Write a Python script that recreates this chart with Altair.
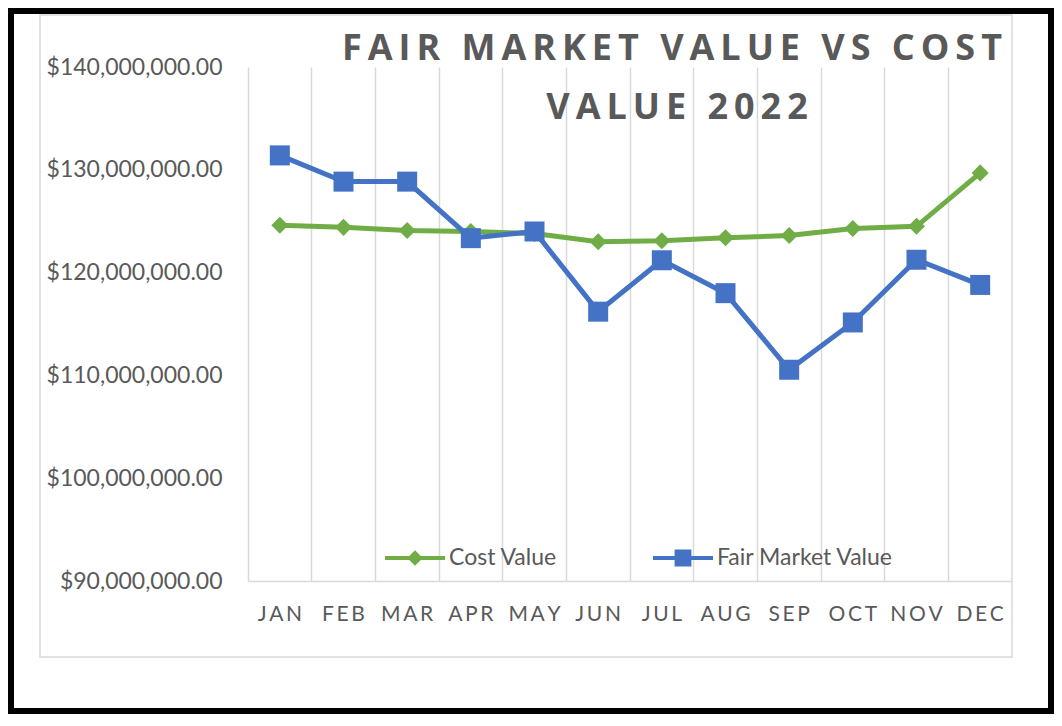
import altair as alt
import pandas as pd

months = ["JAN", "FEB", "MAR", "APR", "MAY", "JUN", "JUL", "AUG", "SEP", "OCT", "NOV", "DEC"]
cost_value = [124_600_000, 124_400_000, 124_100_000, 124_000_000, 123_800_000, 123_000_000,
              123_100_000, 123_400_000, 123_600_000, 124_300_000, 124_500_000, 129_700_000]
fair_market_value = [131_400_000, 128_850_000, 128_850_000, 123_350_000, 124_000_000, 116_200_000,
                     121_200_000, 118_000_000, 110_550_000, 115_150_000, 121_250_000, 118_800_000]
series_names = ["Cost Value", "Fair Market Value"]
series_colors = ["#70AD47", "#4472C4"]
y_ticks = [90_000_000, 100_000_000, 110_000_000, 120_000_000, 130_000_000, 140_000_000]
title_lines = ["FAIR MARKET VALUE VS COST", "VALUE 2022"]

TS = "\u2009"
def spaced(s):
    return TS.join(list(s))

df = pd.DataFrame({
    "month": months * 2,
    "series": [series_names[0]] * len(months) + [series_names[1]] * len(months),
    "value": cost_value + fair_market_value,
})

W, H = 764, 514
FONT = "Lato"
GRAY_TXT = "#595959"
GRID = "#d9d9d9"

x_enc = alt.X(
    "month:N", sort=months,
    scale=alt.Scale(type="band", domain=months, paddingInner=0, paddingOuter=0),
    axis=alt.Axis(
        title=None, labelAngle=0, grid=True, bandPosition=0, gridColor=GRID, gridWidth=1.5,
        domain=True, domainColor=GRID, domainWidth=1.5, ticks=False,
        labelFont=FONT, labelFontSize=21, labelColor=GRAY_TXT, labelPadding=22,
        labelExpr="join(split(datum.label, ''), '" + TS + "')",
    ),
)
y_enc = alt.Y(
    "value:Q",
    scale=alt.Scale(domain=[90_000_000, 140_000_000], nice=False, zero=False),
    axis=alt.Axis(
        title=None, values=y_ticks, format="$,.2f", grid=False, domain=False, ticks=False,
        labelFont=FONT, labelFontSize=23, labelColor=GRAY_TXT, labelPadding=26,
    ),
)

base = alt.Chart(df)

cost_line = base.transform_filter(alt.datum.series == series_names[0]).mark_line(
    color=series_colors[0], strokeWidth=5).encode(x=x_enc, y=y_enc)
cost_pts = base.transform_filter(alt.datum.series == series_names[0]).mark_point(
    shape="diamond", filled=True, size=290, color=series_colors[0], opacity=1).encode(x=x_enc, y=y_enc)
fmv_line = base.transform_filter(alt.datum.series == series_names[1]).mark_line(
    color=series_colors[1], strokeWidth=5).encode(x=x_enc, y=y_enc)
fmv_pts = base.transform_filter(alt.datum.series == series_names[1]).mark_point(
    shape="square", filled=True, size=400, color=series_colors[1], opacity=1).encode(x=x_enc, y=y_enc)

legend_paths = [
    "M-1,-0.07H1V0.07H-1Z M0,-0.26L0.26,0L0,0.26L-0.26,0Z",
    "M-1,-0.07H1V0.07H-1Z M-0.28,-0.28H0.28V0.28H-0.28Z",
]
leg = alt.Legend(
    title=None, orient="none", legendX=137, legendY=461, direction="horizontal",
    labelFont=FONT, labelFontSize=23, labelColor=GRAY_TXT, labelOffset=4, labelLimit=400,
    columnPadding=96, symbolStrokeWidth=0, symbolOpacity=1, symbolSize=3600, padding=0,
)
legend_layer = base.transform_filter("false").mark_point(filled=True, size=3600, opacity=1).encode(
    x=x_enc, y=y_enc,
    color=alt.Color("series:N", scale=alt.Scale(domain=series_names, range=series_colors), legend=leg),
    shape=alt.Shape("series:N", scale=alt.Scale(domain=series_names, range=legend_paths), legend=leg),
)

one = pd.DataFrame({"k": [0]})
gray_frame = alt.Chart(one).mark_rect(fill="transparent", stroke=GRID, strokeWidth=1.5).encode(
    x=alt.value(-208), x2=alt.value(W), y=alt.value(-52), y2=alt.value(590))
black_frame = alt.Chart(one).mark_rect(fill="transparent", stroke="black", strokeWidth=6).encode(
    x=alt.value(-237), x2=alt.value(803), y=alt.value(-56), y2=alt.value(644))

title_style = dict(font="Open Sans", fontSize=36, fontWeight="bold", color=GRAY_TXT,
                   align="center", baseline="middle")
title1 = alt.Chart(one).mark_text(text=spaced(title_lines[0]), **title_style).encode(
    x=alt.value(424), y=alt.value(-18))
title2 = alt.Chart(one).mark_text(text=spaced(title_lines[1]), **title_style).encode(
    x=alt.value(429), y=alt.value(41))

chart = alt.layer(
    gray_frame, black_frame, cost_line, cost_pts, fmv_line, fmv_pts, legend_layer, title1, title2
).properties(
    width=W, height=H,
    autosize=alt.AutoSizeParams(type="none"),
    padding={"left": 240, "top": 59, "right": 42, "bottom": 133},
    background="white",
).configure_view(strokeWidth=0)

chart.save("out.html", embed_options={"renderer": "svg", "actions": False})
